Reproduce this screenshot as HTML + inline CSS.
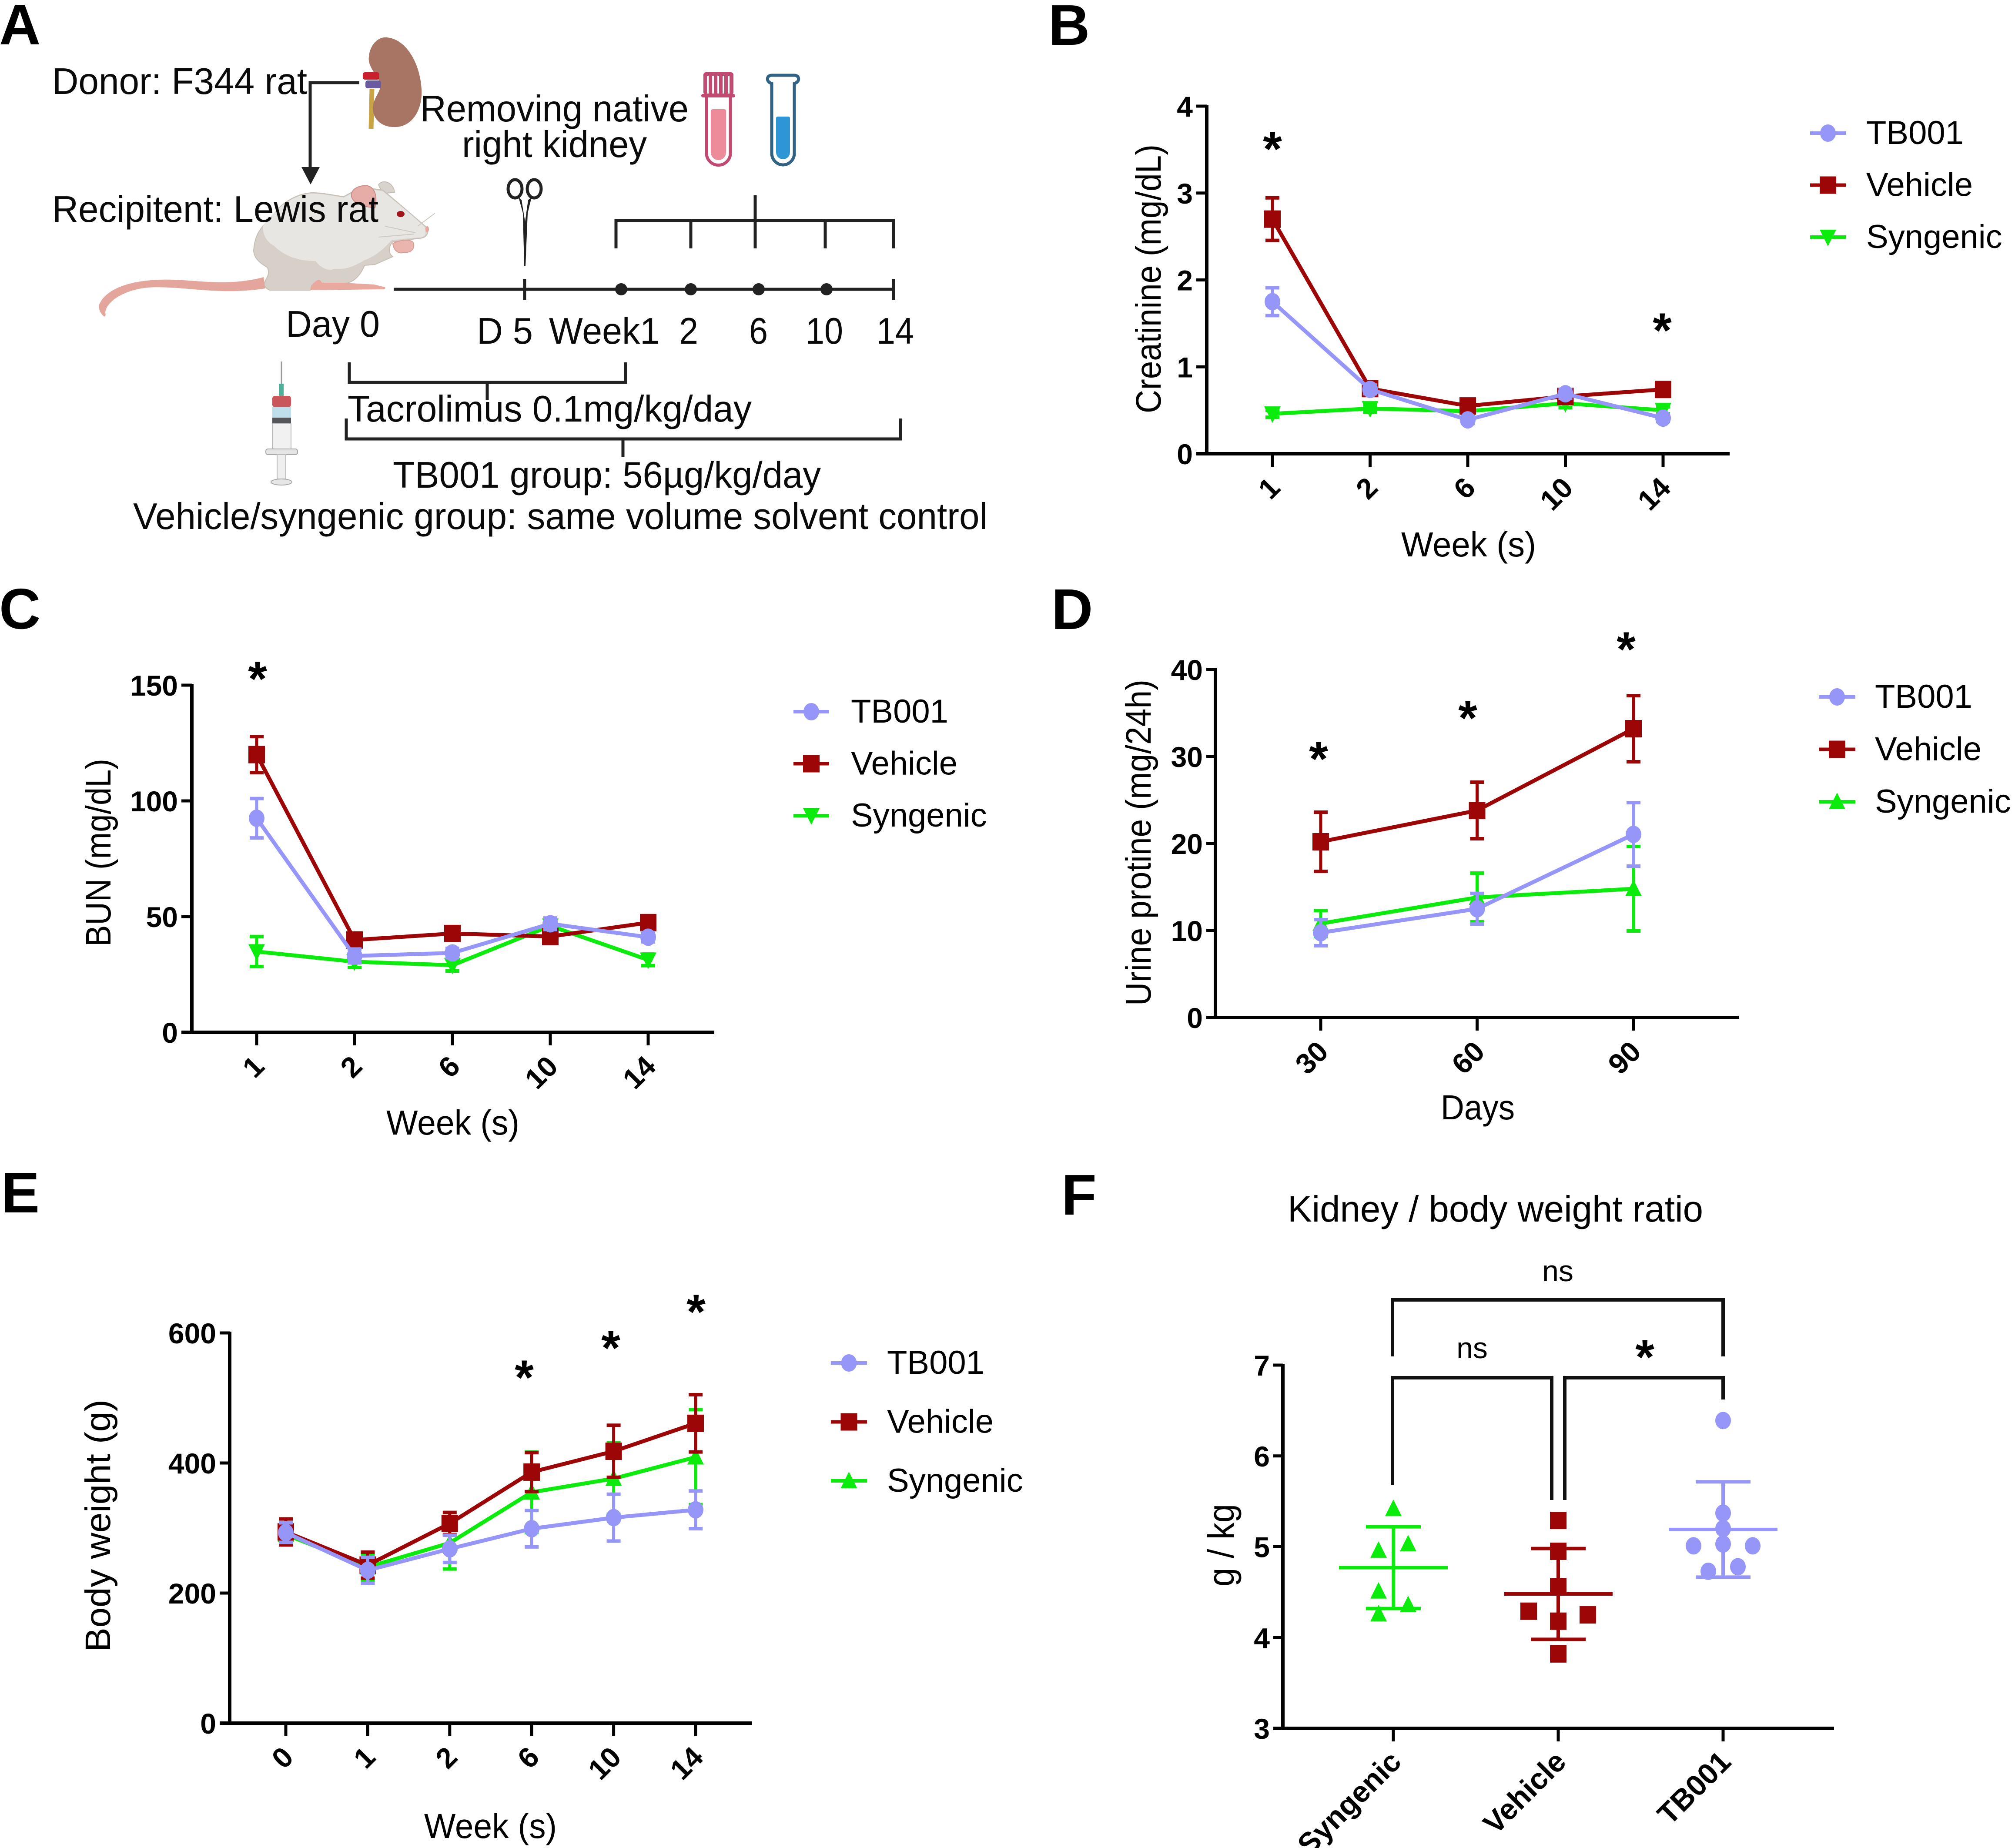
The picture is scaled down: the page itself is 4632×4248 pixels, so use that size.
<!DOCTYPE html>
<html lang="en">
<head>
<meta charset="utf-8">
<title>TB001 kidney transplant figure</title>
<style>
html,body{margin:0;padding:0;background:#fff;width:4632px;height:4248px;overflow:hidden}
svg{display:block}
text{font-family:"Liberation Sans",Arial,sans-serif;fill:#000}
.panel-letter{font-size:132px;font-weight:700}
.a-text{font-size:85px;fill:#0a0a0a}
.thin{stroke:#222;stroke-width:7;fill:none}
</style>
</head>
<body>
<svg id="figure" xmlns="http://www.w3.org/2000/svg" width="4632" height="4248" viewBox="0 0 4632 4248">
<rect x="0" y="0" width="4632" height="4248" fill="#fff"/>

<text class="panel-letter" x="-2" y="102">A</text>
<text class="panel-letter" x="2410" y="103">B</text>
<text class="panel-letter" x="-2" y="1445">C</text>
<text class="panel-letter" x="2417" y="1446">D</text>
<text class="panel-letter" x="3" y="2787">E</text>
<text class="panel-letter" x="2440" y="2792">F</text>

<!-- PANEL A -->
<g id="panel-a">
  <g>
    <path d="M855 204 L853 296" stroke="#c9a444" stroke-width="11" fill="none"/>
    <path d="M888 86 C930 88 965 140 969 205 C972 255 945 294 905 292 C875 292 852 270 858 240 C862 220 880 205 873 188 C860 165 845 150 848 130 C850 105 868 84 888 86 Z" fill="#a87463"/>
    <rect x="834" y="166" width="38" height="17" rx="5" fill="#c8202c"/>
    <rect x="840" y="185" width="36" height="18" rx="5" fill="#6a5aa0"/>
  </g>
  <g>
    <path class="thin" d="M826 190 H713 V390"/>
    <path d="M693 384 H735 L714 424 Z" fill="#222"/>
  </g>
  <g>
    <path d="M606 637 C540 655 480 648 420 644 C340 638 250 650 228 700 C226 712 232 722 240 728 L243 724 C236 705 270 668 340 661 C420 656 500 680 610 663 Z" fill="#e3a59c"/>
    <path d="M870 425 C880 410 905 420 907 442 L880 445 Z" fill="#d8d3cd" stroke="#c6bfb6" stroke-width="2"/>
    <path d="M583 577 C585 540 600 520 625 500 C640 470 680 445 717 443 C745 443 770 450 790 452 L830 430 L880 437 C920 470 960 505 980 522 L983 535 C980 545 972 548 962 548 L903 556 C890 570 895 585 903 590 L862 608 L838 610 C830 630 815 650 790 652 L720 662 L713 667 L620 667 C608 662 606 655 610 645 C615 635 620 630 615 615 C598 605 585 595 583 577 Z" fill="#d6d0c8" stroke="#c6bfb6" stroke-width="2"/>
    <path d="M604 520 C640 470 680 447 717 445 C745 445 770 452 790 454 L835 432 L880 440 C920 472 960 505 978 524 L978 540 C970 547 965 546 960 546 L900 552 C880 575 860 590 838 598 C810 615 790 620 770 618 C750 625 735 612 725 600 C680 600 650 585 630 565 C610 555 604 535 604 520 Z" fill="#e8e6e3"/>
    <path d="M808 452 C805 435 825 425 845 427 C862 432 868 450 862 478 L842 475 C825 470 812 465 808 452 Z" fill="#e6aca6" stroke="#c88f88" stroke-width="2"/>
    <ellipse cx="921" cy="492" rx="9" ry="7" fill="#a3141c"/>
    <path d="M903 560 C915 552 945 548 950 558 C955 570 945 582 930 580 C915 585 905 575 903 560 Z" fill="#e9b5ad" stroke="#d99b93" stroke-width="2"/>
    <path d="M715 657 C730 640 735 640 740 650 L790 650 L860 654 L885 660 C887 664 884 665 880 665 L713 667 Z" fill="#e9a99f"/>
    <ellipse cx="982" cy="527" rx="4" ry="7" fill="#e3a59c"/>
    <path d="M960 520 L1000 490 M955 535 L885 520 M952 538 L870 545" stroke="#cfc8c0" stroke-width="2" fill="none"/>
  </g>
  <g>
    <ellipse cx="1184" cy="434" rx="16" ry="21" fill="none" stroke="#222" stroke-width="7"/>
    <ellipse cx="1228" cy="434" rx="16" ry="21" fill="none" stroke="#222" stroke-width="7"/>
    <path d="M1192 453 L1202 490 L1205 612 L1208 612 L1213 490 L1222 453 L1214 460 L1207 510 L1199 460 Z" fill="#222"/>
  </g>
  <g>
    <path d="M1624 220 V352 A27.5 27.5 0 0 0 1679 352 V220" fill="#fff" stroke="#c24a70" stroke-width="7"/>
    <path d="M1634 256 Q1634 251 1639 251 H1664 Q1669 251 1669 256 V350 A17.5 18 0 0 1 1634 350 Z" fill="#ee8b9b"/>
    <rect x="1617" y="166" width="69" height="52" rx="6" fill="#c24a70"/>
    <rect x="1612" y="216" width="78" height="8" rx="4" fill="#c24a70"/>
    <rect x="1625" y="174" width="4" height="41" fill="#fff"/>
    <rect x="1637" y="174" width="4" height="41" fill="#fff"/>
    <rect x="1649" y="174" width="4" height="41" fill="#fff"/>
    <rect x="1661" y="174" width="4" height="41" fill="#fff"/>
    <rect x="1673" y="174" width="4" height="41" fill="#fff"/>
  </g>
  <g>
    <path d="M1774 192 L1774 352 A26 27 0 0 0 1826 352 L1826 192 C1840 188 1838 173 1826 173 L1774 173 C1762 173 1760 188 1774 192 Z" fill="#fff" stroke="#2f6283" stroke-width="7"/>
    <path d="M1784 272 Q1784 268 1788 268 H1812 Q1816 268 1816 272 V350 A16 16 0 0 1 1784 350 Z" fill="#2f96d6"/>
  </g>
  <g>
    <path class="thin" d="M905 665 H2054"/>
    <path class="thin" d="M1206 641 V690 M2054 641 V690" stroke-width="5"/>
    <circle cx="1428" cy="665" r="14" fill="#222"/>
    <circle cx="1588" cy="665" r="14" fill="#222"/>
    <circle cx="1744" cy="665" r="14" fill="#222"/>
    <circle cx="1900" cy="665" r="14" fill="#222"/>
  </g>
  <path class="thin" d="M1416 571 V507 H2054 V571 M1588 507 V571 M1736 449 V571 M1897 507 V571"/>
  <path class="thin" d="M803 833 V879 H1438 V833 M1120 879 V920"/>
  <path class="thin" d="M796 962 V1009 H2070 V962 M1432 1009 V1051"/>
  <g>
    <path d="M647 831 V885" stroke="#9a9a9a" stroke-width="3"/>
    <rect x="642" y="882" width="10" height="28" fill="#4fb09a"/>
    <rect x="626" y="910" width="43" height="26" rx="6" fill="#c8565a"/>
    <rect x="626" y="935" width="43" height="26" fill="#bfe0ea"/>
    <rect x="626" y="960" width="43" height="14" fill="#55565a"/>
    <rect x="626" y="974" width="43" height="58" fill="#f1f1f1" stroke="#bcbcbc" stroke-width="2"/>
    <rect x="611" y="1032" width="73" height="13" rx="5" fill="#e6e6e6" stroke="#aaa" stroke-width="2"/>
    <rect x="637" y="1045" width="20" height="56" fill="#efefef" stroke="#bbb" stroke-width="2"/>
    <ellipse cx="647" cy="1108" rx="24" ry="7" fill="#e6e6e6" stroke="#aaa" stroke-width="2"/>
  </g>
  <text class="a-text" x="120" y="216" textLength="586" lengthAdjust="spacingAndGlyphs">Donor: F344 rat</text>
  <text class="a-text" x="966" y="279" textLength="617" lengthAdjust="spacingAndGlyphs">Removing native</text>
  <text class="a-text" x="1062" y="361" textLength="425" lengthAdjust="spacingAndGlyphs">right kidney</text>
  <text class="a-text" x="120" y="510" textLength="750" lengthAdjust="spacingAndGlyphs">Recipitent: Lewis rat</text>
  <text class="a-text" x="657" y="774" textLength="216" lengthAdjust="spacingAndGlyphs">Day 0</text>
  <text class="a-text" x="1096" y="790" textLength="129" lengthAdjust="spacingAndGlyphs">D 5</text>
  <text class="a-text" x="1262" y="790" textLength="255" lengthAdjust="spacingAndGlyphs">Week1</text>
  <text class="a-text" x="1561" y="790" textLength="44" lengthAdjust="spacingAndGlyphs">2</text>
  <text class="a-text" x="1722" y="790" textLength="43" lengthAdjust="spacingAndGlyphs">6</text>
  <text class="a-text" x="1852" y="790" textLength="86" lengthAdjust="spacingAndGlyphs">10</text>
  <text class="a-text" x="2015" y="790" textLength="86" lengthAdjust="spacingAndGlyphs">14</text>
  <text class="a-text" x="799" y="969" textLength="929" lengthAdjust="spacingAndGlyphs">Tacrolimus 0.1mg/kg/day</text>
  <text class="a-text" x="903" y="1121" textLength="984" lengthAdjust="spacingAndGlyphs">TB001 group: 56µg/kg/day</text>
  <text class="a-text" x="306" y="1216" textLength="1964" lengthAdjust="spacingAndGlyphs">Vehicle/syngenic group: same volume solvent control</text>
</g>

<g id="charts"></g>

<!-- PANEL F annotations -->
<g>
  <text x="2960" y="2808" font-size="84" textLength="955" lengthAdjust="spacingAndGlyphs">Kidney / body weight ratio</text>
  <path d="M3201 3118 V2988 H3961 V3118" fill="none" stroke="#111" stroke-width="8"/>
  <path d="M3201 3414 V3167 H3567 V3448" fill="none" stroke="#111" stroke-width="8"/>
  <path d="M3597 3448 V3167 H3961 V3217" fill="none" stroke="#111" stroke-width="8"/>
  <text x="3581" y="2945" font-size="68" text-anchor="middle">ns</text>
  <text x="3384" y="3122" font-size="68" text-anchor="middle">ns</text>
</g>
<g font-size="112" font-weight="700" text-anchor="middle">
  <text x="2925" y="381">*</text>
  <text x="3821" y="798">*</text>
  <text x="592" y="1599">*</text>
  <text x="3031" y="1783">*</text>
  <text x="3374" y="1689">*</text>
  <text x="3738" y="1531">*</text>
  <text x="1205" y="3205">*</text>
  <text x="1404" y="3137">*</text>
  <text x="1600" y="3054">*</text>
  <text x="3781" y="3158">*</text>
</g>
</svg>

<script>
// ---------- Panel B: creatinine ----------
const bCategories = ['1', '2', '6', '10', '14'];
const bTicks = [0, 1, 2, 3, 4];
const bTb001 = [1.75, 0.74, 0.39, 0.69, 0.41];
const bTb001Err = [0.16, 0.05, 0.04, 0.05, 0.04];
const bVehicle = [2.70, 0.75, 0.55, 0.66, 0.74];
const bVehicleErr = [0.245, 0.06, 0.05, 0.05, 0.05];
const bSyngenic = [0.46, 0.52, 0.49, 0.58, 0.50];
const bSyngenicErr = [0.04, 0.04, 0.03, 0.05, 0.04];

// ---------- Panel C: BUN ----------
const cCategories = ['1', '2', '6', '10', '14'];
const cTicks = [0, 50, 100, 150];
const cTb001 = [92.5, 33, 34.3, 46.9, 41.1];
const cTb001Err = [8.5, 3, 2, 2.5, 2];
const cVehicle = [120, 39.9, 42.7, 41.4, 47.4];
const cVehicleErr = [7.8, 2, 2, 2.5, 3];
const cSyngenic = [34.9, 30.5, 29, 46, 31.3];
const cSyngenicErr = [6.5, 2.5, 2.5, 3, 2.5];

// ---------- Panel D: urine protein ----------
const dCategories = ['30', '60', '90'];
const dTicks = [0, 10, 20, 30, 40];
const dTb001 = [9.75, 12.5, 21.05];
const dTb001Err = [1.5, 1.76, 3.65];
const dVehicle = [20.2, 23.8, 33.2];
const dVehicleErr = [3.4, 3.25, 3.8];
const dSyngenic = [10.8, 13.8, 14.8];
const dSyngenicErr = [1.5, 2.8, 4.85];

// ---------- Panel E: body weight ----------
const eCategories = ['0', '1', '2', '6', '10', '14'];
const eTicks = [0, 200, 400, 600];
const eTb001 = [293, 235, 268, 299, 316, 328];
const eTb001Err = [15, 20, 21, 28, 36, 29];
const eVehicle = [294, 243, 307, 386, 418, 461];
const eVehicleErr = [20, 20, 17, 30, 40, 44];
const eSyngenic = [290, 240, 277, 355, 376, 409];
const eSyngenicErr = [15, 20, 40, 62, 55, 73];

// ---------- Panel F: kidney / body weight ratio ----------
const fCategories = ['Syngenic', 'Vehicle', 'TB001'];
const fTicks = [3, 4, 5, 6, 7];
const fSyngenicPoints = [5.42, 5.03, 4.96, 4.51, 4.36, 4.26];
const fSyngenicColumns = [0, 0.5, -0.5, -0.5, 0.5, -0.5];
const fVehiclePoints = [5.29, 4.95, 4.56, 4.29, 4.25, 4.18, 3.82];
const fVehicleColumns = [0, 0, 0, -1, 1, 0, 0];
const fTb001Points = [6.39, 5.37, 5.20, 5.03, 5.01, 5.01, 4.78, 4.73];
const fTb001Columns = [0, 0, 0, 0, -1, 1, 0.5, -0.5];
const fMeans = [4.77, 4.48, 5.19];
const fSds = [0.45, 0.50, 0.525];

const SVGNS = 'http://www.w3.org/2000/svg';
const COLORS = { tb001: '#9696f8', vehicle: '#9c0606', syngenic: '#0cec0c' };
const LABELS = { tb001: 'TB001', vehicle: 'Vehicle', syngenic: 'Syngenic' };
const root = document.getElementById('charts');

function make(tag, parent) {
  const node = document.createElementNS(SVGNS, tag);
  parent.appendChild(node);
  return node;
}
function set(node, props) {
  for (const k in props) node.setAttribute(k, props[k]);
  return node;
}
function seg(parent, x1, y1, x2, y2, color, width) {
  const l = make('line', parent);
  set(l, { x1: x1, y1: y1, x2: x2, y2: y2, stroke: color, 'stroke-width': width });
  return l;
}
function marker(parent, shape, x, y, color) {
  let m;
  if (shape === 'circle') {
    m = make('ellipse', parent);
    set(m, { cx: x, cy: y, rx: 18, ry: 20, fill: color });
  } else if (shape === 'square') {
    m = make('rect', parent);
    set(m, { x: x - 19, y: y - 20, width: 38, height: 40, fill: color });
  } else if (shape === 'up') {
    m = make('polygon', parent);
    set(m, { points: (x - 19) + ',' + (y + 17) + ' ' + (x + 19) + ',' + (y + 17) + ' ' + x + ',' + (y - 21), fill: color });
  } else {
    m = make('polygon', parent);
    set(m, { points: (x - 19) + ',' + (y - 17) + ' ' + (x + 19) + ',' + (y - 17) + ' ' + x + ',' + (y + 21), fill: color });
  }
  return m;
}
function linearScale(vMin, vMax, pxMin, pxMax) {
  return function (v) { return pxMin + (v - vMin) / (vMax - vMin) * (pxMax - pxMin); };
}
function drawAxes(g, o) {
  const y = linearScale(o.ticks[0], o.ticks[o.ticks.length - 1], o.yBottom, o.yTop);
  const axisY = make('line', g);
  
  
  set(axisY, { x1: o.yAxisX, y1: o.yTop - 3, x2: o.yAxisX, y2: o.yBottom, stroke: '#000', 'stroke-width': 8 });
  const axisX = make('line', g);
  
  
  set(axisX, { x1: o.xLeft, y1: o.yBottom, x2: o.xRight, y2: o.yBottom, stroke: '#000', 'stroke-width': 8 });
  o.ticks.forEach(function (t) {
    const tick = seg(g, o.xLeft, y(t), o.yAxisX, y(t), '#000', 7);
    
    
    const lab = make('text', g);
    
    
    set(lab, { x: o.xLeft - 8, y: y(t) + 24, 'font-size': 66, 'font-weight': 700, 'text-anchor': 'end' });
    lab.textContent = t;
  });
  o.categories.forEach(function (c, i) {
    const cx = o.xFirst + i * o.xStep;
    const tick = seg(g, cx, o.yBottom, cx, o.yBottom + 30, '#000', 7);
    
    
    const lab = make('text', g);
    
    
    const ax = cx + 5;
    const ay = o.yBottom + (o.labelDrop || 66);
    set(lab, { x: ax, y: ay, dy: '0.35em', 'font-size': o.labelSize || 66, 'font-weight': 700, 'text-anchor': 'end', transform: 'rotate(-45 ' + ax + ' ' + ay + ')' });
    lab.textContent = c;
  });
  return y;
}
function drawTitles(g, o) {
  const xt = make('text', g);
  
  
  set(xt, { x: o.xTitle[0], y: o.xTitle[1], 'font-size': 80, textLength: o.xTitle[2], lengthAdjust: 'spacingAndGlyphs' });
  xt.textContent = o.xTitleText;
  const yt = make('text', g);
  
  
  set(yt, { x: 0, y: 0, 'font-size': 82, textLength: o.yTitle[2], lengthAdjust: 'spacingAndGlyphs', transform: 'translate(' + o.yTitle[0] + ' ' + o.yTitle[1] + ') rotate(-90)' });
  yt.textContent = o.yTitleText;
}
function drawLegend(g, o, entries) {
  entries.forEach(function (e, i) {
    const row = make('g', g);
    
    
    const ly = o.legend.y + i * o.legend.gap;
    seg(row, o.legend.x1, ly, o.legend.x2, ly, COLORS[e.key], 8);
    marker(row, e.shape, (o.legend.x1 + o.legend.x2) / 2, ly, COLORS[e.key]);
    const t = make('text', row);
    
    
    set(t, { x: o.legend.tx, y: ly + 25, 'font-size': 76 });
    t.textContent = LABELS[e.key];
  });
}
function drawLineChart(name, o, series) {
  const g = make('g', root);
  
  
  const y = drawAxes(g, o);
  const x = function (i) { return o.xFirst + i * o.xStep; };
  series.forEach(function (s) {
    const sg = make('g', g);
    
    
    const color = COLORS[s.key];
    s.values.forEach(function (v, i) {
      const bar = make('g', sg);
      
      
      const hi = y(v + s.err[i]);
      const lo = y(v - s.err[i]);
      seg(bar, x(i), hi, x(i), lo, color, 7);
      seg(bar, x(i) - 16, hi, x(i) + 16, hi, color, 8);
      seg(bar, x(i) - 16, lo, x(i) + 16, lo, color, 8);
    });
    const line = make('polyline', sg);
    
    
    set(line, { points: s.values.map(function (v, i) { return x(i) + ',' + y(v); }).join(' '), fill: 'none', stroke: color, 'stroke-width': 9 });
    s.values.forEach(function (v, i) {
      const m = marker(sg, s.shape, x(i), y(v), color);
      
      
    });
  });
  drawTitles(g, o);
  drawLegend(g, o, series.slice().reverse());
}

drawLineChart('creatinine-chart', {
  ticks: bTicks, categories: bCategories, yAxisX: 2774, yTop: 244, yBottom: 1043,
  xLeft: 2750, xRight: 3976, xFirst: 2925, xStep: 224.5,
  xTitleText: 'Week (s)', xTitle: [3221, 1279, 310],
  yTitleText: 'Creatinine (mg/dL)', yTitle: [2668, 950, 618],
  legend: { x1: 4161, x2: 4243, y: 306, gap: 119.5, tx: 4290 }
}, [
  { key: 'syngenic', shape: 'down', values: bSyngenic, err: bSyngenicErr },
  { key: 'vehicle', shape: 'square', values: bVehicle, err: bVehicleErr },
  { key: 'tb001', shape: 'circle', values: bTb001, err: bTb001Err }
]);

drawLineChart('bun-chart', {
  ticks: cTicks, categories: cCategories, yAxisX: 441, yTop: 1575, yBottom: 2373,
  xLeft: 417, xRight: 1642, xFirst: 590, xStep: 225,
  xTitleText: 'Week (s)', xTitle: [888, 2608, 306],
  yTitleText: 'BUN (mg/dL)', yTitle: [254, 2176, 432],
  legend: { x1: 1824, x2: 1906, y: 1636, gap: 119.5, tx: 1956 }
}, [
  { key: 'syngenic', shape: 'down', values: cSyngenic, err: cSyngenicErr },
  { key: 'vehicle', shape: 'square', values: cVehicle, err: cVehicleErr },
  { key: 'tb001', shape: 'circle', values: cTb001, err: cTb001Err }
]);

drawLineChart('urine-protein-chart', {
  ticks: dTicks, categories: dCategories, yAxisX: 2794, yTop: 1539, yBottom: 2339,
  xLeft: 2773, xRight: 3997, xFirst: 3036, xStep: 359.5,
  xTitleText: 'Days', xTitle: [3312, 2573, 170],
  yTitleText: 'Urine protine (mg/24h)', yTitle: [2645, 2312, 750],
  legend: { x1: 4181, x2: 4265, y: 1602, gap: 120.5, tx: 4310 }
}, [
  { key: 'syngenic', shape: 'up', values: dSyngenic, err: dSyngenicErr },
  { key: 'vehicle', shape: 'square', values: dVehicle, err: dVehicleErr },
  { key: 'tb001', shape: 'circle', values: dTb001, err: dTb001Err }
]);

drawLineChart('body-weight-chart', {
  ticks: eTicks, categories: eCategories, yAxisX: 528, yTop: 3064, yBottom: 3961,
  xLeft: 505, xRight: 1728, xFirst: 657, xStep: 188.4,
  xTitleText: 'Week (s)', xTitle: [975, 4225, 305],
  yTitleText: 'Body weight (g)', yTitle: [253, 3797, 580],
  legend: { x1: 1910, x2: 1993, y: 3133, gap: 135.5, tx: 2039 }
}, [
  { key: 'syngenic', shape: 'up', values: eSyngenic, err: eSyngenicErr },
  { key: 'vehicle', shape: 'square', values: eVehicle, err: eVehicleErr },
  { key: 'tb001', shape: 'circle', values: eTb001, err: eTb001Err }
]);

// Scatter panel F
(function () {
  const g = make('g', root);
  
  
  const o = {
    ticks: fTicks, categories: fCategories, yAxisX: 2949, yTop: 3138, yBottom: 3973,
    xLeft: 2927, xRight: 4216, xFirst: 3203, xStep: 379, labelSize: 68, labelDrop: 64
  };
  const y = drawAxes(g, o);
  const columnWidth = 68;
  const groups = [
    { key: 'syngenic', shape: 'up', pts: fSyngenicPoints, cols: fSyngenicColumns },
    { key: 'vehicle', shape: 'square', pts: fVehiclePoints, cols: fVehicleColumns },
    { key: 'tb001', shape: 'circle', pts: fTb001Points, cols: fTb001Columns }
  ];
  groups.forEach(function (gr, i) {
    const cx = o.xFirst + i * o.xStep;
    const color = COLORS[gr.key];
    const sg = make('g', g);
    
    
    const hi = y(fMeans[i] + fSds[i]);
    const lo = y(fMeans[i] - fSds[i]);
    const mean = seg(sg, cx - 125, y(fMeans[i]), cx + 125, y(fMeans[i]), color, 8);
    
    
    const err = seg(sg, cx, hi, cx, lo, color, 8);
    
    
    seg(sg, cx - 63, hi, cx + 63, hi, color, 8);
    seg(sg, cx - 63, lo, cx + 63, lo, color, 8);
    gr.pts.forEach(function (v, j) {
      const m = marker(sg, gr.shape, cx + gr.cols[j] * columnWidth, y(v), color);
      
      
    });
  });
  const yt = make('text', g);
  
  
  set(yt, { x: 0, y: 0, 'font-size': 84, textLength: 190, lengthAdjust: 'spacingAndGlyphs', transform: 'translate(2836 3647) rotate(-90)' });
  yt.textContent = 'g / kg';
})();
</script>
</body>
</html>
